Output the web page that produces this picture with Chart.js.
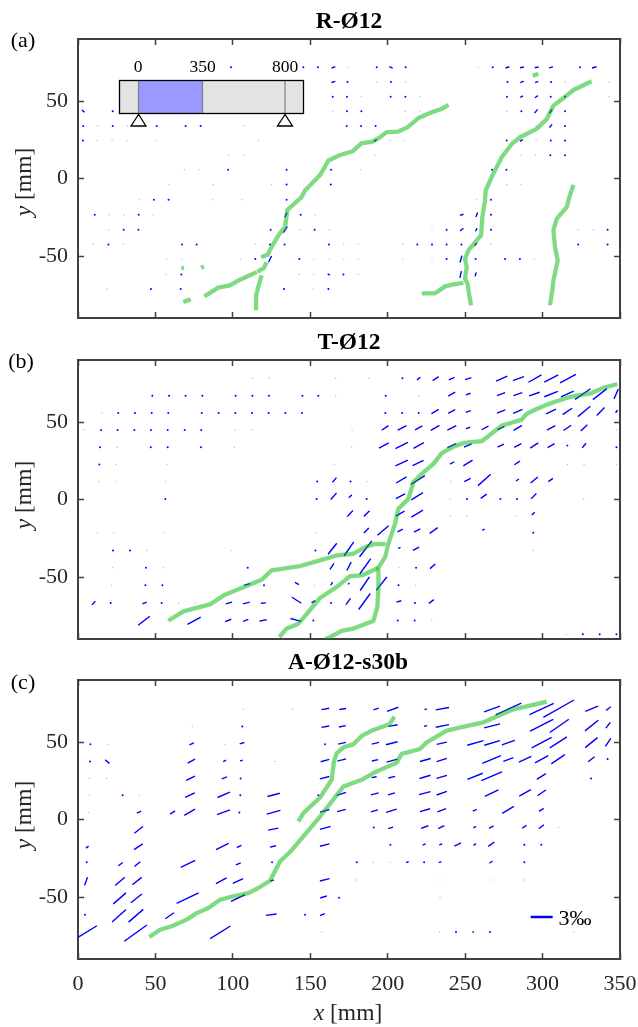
<!DOCTYPE html>
<html>
<head>
<meta charset="utf-8">
<script src="https://cdn.jsdelivr.net/npm/chart.js@4/dist/chart.umd.js"></script>
<style>
html, body { margin: 0; padding: 0; background: #fff; }
#page { position: relative; width: 638px; height: 1027px; overflow: hidden; font-family: "Liberation Serif", serif; }
canvas { position: absolute; left: 0; }
.txt { position: absolute; white-space: nowrap; color: #262626; font-size: 23.5px; line-height: 26px; transform: translate(-50%, -50%); }
.title { font-weight: bold; color: #000; font-size: 23.5px; }
.letter { color: #000; font-size: 22px; }
.rot { transform: translate(-50%, -50%) rotate(-90deg); }
</style>
</head>
<body>
<div id="page">
    <canvas id="chart-a" width="638" height="345" style="top:0"></canvas>
    <canvas id="chart-b" width="638" height="345" style="top:321px"></canvas>
    <canvas id="chart-c" width="638" height="386" style="top:641px"></canvas>

    <div class="txt title" style="left:349px;top:20px">R-Ø12</div>
    <div class="txt title" style="left:349px;top:341px">T-Ø12</div>
    <div class="txt title" style="left:348px;top:661px">A-Ø12-s30b</div>
    <div class="txt letter" style="left:23px;top:40px">(a)</div>
    <div class="txt letter" style="left:21px;top:361px">(b)</div>
    <div class="txt letter" style="left:23px;top:682px">(c)</div>
    <div class="txt rot" style="left:23px;top:182px"><i>y</i> [mm]</div>
    <div class="txt rot" style="left:23px;top:495px"><i>y</i> [mm]</div>
    <div class="txt rot" style="left:23px;top:815px"><i>y</i> [mm]</div>
    <div class="txt" style="left:348px;top:1012px"><i>x</i> [mm]</div>
    <div class="txt" style="left:575px;top:918px;font-size:22px;color:#000">3‰</div>
</div>

<script>
var xTicks = [0, 50, 100, 150, 200, 250, 300, 350];
var yTicks = [-50, 0, 50];
var insetLabels = ['0', '350', '800'];
var scaleBar = [[292.3, -62.9], [306.5, -62.9]];

// dots: [y, [x, x, ...]] per grid row, in mm
var aDots = [
    [71.7, [98.8, 145.5, 155, 192.9, 211.6, 267.8, 324.2]],
    [62.3, [174, 202.1, 277.3, 305.5]],
    [52.8, [164.5, 173.7, 201.9, 211.4, 277, 305.3, 314.5]],
    [43.4, [22.4, 173.7, 183, 286.3, 314.5]],
    [33.9, [3.4, 22.4, 50.8, 69.5, 79.2, 173.5, 182.8, 192.2, 314.5]],
    [24.5, [3.2, 276.8, 305.3, 314.5]],
    [15, [305, 314.5]],
    [5.6, [97, 134.7, 163.4, 267.4, 276.6]],
    [-3.9, [134.7, 163.2]],
    [-13.7, [49, 58.5, 134.7, 266.7]],
    [-23.4, [10.8, 39.2, 143.8, 266.7]],
    [-33, [29.5, 39, 124.4, 152.8, 238, 266.7, 342]],
    [-42.5, [19.6, 67.2, 76.6, 124, 133.4, 162.1, 219.1, 228.6, 238, 247.6, 323, 342]],
    [-52, [114.5, 142.9, 238, 256.8, 275.8, 285.4]],
    [-61.9, [66.7, 171.4]],
    [-71.3, [47.1, 66.3, 133, 161.7]]
];
var aFaint = [
    [71.7, [174, 258.5]],
    [62.3, [192.9, 211.6, 314.7, 342.9]],
    [52.8, [183, 220.9, 342.9]],
    [43.4, [164.5, 211.2, 220.9, 277]],
    [33.9, [12.7, 31.9, 107.4, 126.1, 295.8]],
    [24.5, [12.5, 22, 31.4, 50.4, 116.4, 201.5, 210.8, 295.8]],
    [15, [97.3, 107, 191.8, 286.1, 295.4]],
    [5.6, [68.7, 78.1, 182.6]],
    [-3.9, [59, 87.4, 125, 276.8, 286.1]],
    [-13.7, [39.6, 87, 106, 257.5]],
    [-23.4, [20.2, 29.7, 48.6, 153.3]],
    [-33, [20, 143.4, 162.3, 228.6, 323, 332.8]],
    [-42.5, [9.9, 29.3, 114.5, 171.6, 181, 209.7, 266.5]],
    [-52, [57.3, 66.9, 105, 152.4, 162.1, 171.6, 181, 209.7, 228.6, 294.7]],
    [-61.9, [56.8, 142.7, 152.2, 181]],
    [-71.3, [18.7, 152]]
];
// strain bars: [x, y, dx, dy], centre and full extent in mm
var aBars = [
    [164.9, 71.7, 2.5, 1], [202.1, 71.7, 2.2, -1], [277.3, 71.7, 2.5, 0.8], [286.7, 71.7, 2.5, 0.5],
    [296.2, 71.7, 2.5, 0.5], [305.5, 71.7, 2.5, 0.7], [333.4, 71.7, 3, 0.8],
    [164.9, 62.3, 2.5, 0.7], [286.7, 62.3, 2.2, 1], [296.2, 62.3, 2, 0.8],
    [286.5, 52.8, 1.8, 1], [296, 52.8, 2, 1.4],
    [3.4, 43.4, 1.6, -1.4], [295.8, 43.4, 2, 2.4], [305.3, 43.4, 2, 2.4],
    [305.3, 33.9, 1.8, 2], [192, 24.5, 1.8, 1.4], [286.3, 24.5, 1.8, 1.2],
    [134.3, -23.4, 1.4, 3], [247.8, -23.4, 2.4, 0.7], [257.5, -23.4, 1, 3],
    [133.9, -33, 2.6, 3.8], [247.8, -33, 2.2, 1.8], [257.2, -33, 1, 2],
    [256.8, -42.5, 1.6, 1.8], [124, -52, 2, 4], [247.3, -52, 1.2, 4.4],
    [247.1, -61.9, 1, 4.4], [256.8, -61.9, 0.8, 2.4], [161.9, -61.9, 1.4, -0.9]
];
var aCracks = [
    [[68, -79.7], [72.8, -78]],
    [[81.6, -76], [90.6, -70.4], [98.1, -69], [104.6, -65.3], [115.4, -60.4]],
    [[118.6, -62.5], [116.4, -70], [115, -75.4], [115, -84]],
    [[115.8, -60.2], [120, -57.8], [121.8, -53.9]],
    [[118.2, -50.7], [122.5, -49.2], [125, -44.2], [129.4, -36.7], [133.7, -31.4], [135.2, -20.2], [140.1, -15.9],
     [144.4, -12], [146.6, -7.7], [156.3, 2.2], [161.7, 11.6], [169.2, 15.2], [177.4, 17.6], [183.2, 22.8],
     [189.7, 23.6], [195, 26.6], [199.3, 29.9], [206.9, 30.3], [212.7, 33], [219.8, 39], [228.4, 42.7],
     [234.9, 44.9], [239.2, 47.5]],
    [[66.7, -57.8], [68.4, -57.8]],
    [[79.4, -57.6], [81.4, -56.7]],
    [[253.8, -81.8], [252.5, -74.3], [251.6, -67.9], [249.9, -64.6], [251, -57.1], [249.9, -51.8], [252.1, -46.4],
     [257.5, -39.9], [260.3, -36.7], [261.1, -24.9], [262.8, -14.2], [263.3, -7.7], [267.1, 0.9], [273.6, 13.7],
     [280.1, 22.3], [285.4, 26.6], [296.2, 32], [302.7, 38.4], [307, 47], [315.6, 53.5], [319.9, 57.1], [331.7, 62.7]],
    [[222, -74.1], [230.6, -74.1], [237, -69.6], [242.4, -68.3], [248.9, -67.4]],
    [[293.6, 66.4], [297.3, 67.4]],
    [[304.8, -81.8], [306.3, -72.2], [307, -65.7], [309.8, -52.8], [308, -44.2], [307, -33.5], [309.1, -26],
     [315.6, -18.5], [317.3, -12], [319.9, -4.1]]
];

var bDots = [
    [78.2, [209.5]],
    [67, [48, 58.8, 69.5, 80.3, 101.8, 112.6, 123.3, 144.9, 155.2, 198.7]],
    [55.8, [26, 36.8, 47.6, 58.3, 79.9, 90.8, 101.6, 112.4, 123.1, 133.9, 144.6, 198.5, 209.3, 220]],
    [44.9, [14.9, 25.6, 36.4, 47.1, 57.9, 68.9, 79.6]],
    [33.7, [14.2, 47, 57.9, 79.4, 347.7]],
    [22.6, [13.8]],
    [11.6, [154.5, 176]],
    [0.4, [56.4, 154.1, 186.4, 251.2, 272.7, 283.5]],
    [-21.5, [294]],
    [-32.9, [22.6, 33.6, 153.3]],
    [-44, [43.9, 109.6, 218.3]],
    [-55.4, [43.5, 54.5, 120.1, 207]],
    [-66.8, [21.1, 54, 163.4, 217.6]],
    [-78, [152, 206.5, 217.4]],
    [-87, [326, 336.9, 347.7]]
];
var bFaint = [
    [78.2, [112.8, 123.5, 166.4, 187.9]],
    [67, [166.4, 220]],
    [55.8, [15.3]],
    [44.9, [3.9, 101.4, 112.1, 177, 347.7]],
    [33.7, [25.2, 101, 176.8]],
    [22.6, [24.8, 57.3, 165.6, 316, 326.8, 347.7]],
    [11.6, [13.5, 24.5, 56.8, 186.7, 240.7]],
    [0.4, [240.5, 326.5]],
    [-10.5, [240.3, 251, 283]],
    [-21.5, [12.5, 23, 55.5, 153.5]],
    [-32.9, [44.3, 98.8, 294]],
    [-44, [22.2, 55.1, 207.5]],
    [-55.4, [21.7, 152.6, 217.9]],
    [-66.8, [65, 76]],
    [-78, [228.4]],
    [-87, [315.1]]
];
var bBars = [
    [220, 78, 2.2, 1.7], [231, 78, 3.9, 2.6], [241.3, 78, 3.7, 1.7], [252, 78, 4.1, 1.3], [273.6, 78, 7.3, 3.2],
    [284.4, 78, 7.1, 2.6], [295.1, 78, 8.4, 4.7], [305.6, 78, 9, 4.7], [316.4, 78, 10.3, 5.4],
    [241.3, 68, 4.5, 2.6], [252, 68, 3, 1.1], [273.2, 68, 5.2, 1.9], [284, 68, 5.8, 1.9], [294.7, 68, 6.9, 2.4],
    [305.5, 68, 8.8, 3.4], [316, 68, 8.2, 3.7], [326, 68, 10, 6.9], [337, 68, 9, 7.1], [347.5, 68, 2.8, 6.4],
    [230.6, 56.8, 4.7, 2.8], [241.3, 56.8, 4.5, 2.4], [252, 56.8, 3.2, 1.1], [273.2, 56.8, 5.4, 2.1],
    [284, 56.8, 6, 2.6], [305.5, 56.8, 6.4, 3], [316, 56.8, 6.2, 4.1], [326.8, 56.8, 8, 6.7], [337.5, 56.8, 5, 5.2],
    [347.8, 56.8, 1.3, 1.9],
    [198.3, 46.2, 4.3, 3], [209.3, 46.2, 5.6, 3], [220, 46.2, 4.7, 2.6], [230.6, 46.2, 5.6, 3.2], [241.4, 46.2, 5.8, 3],
    [252, 46.2, 2.6, 1.1], [262.8, 46.2, 4.5, 2.4], [273.2, 46.2, 4.5, 2.1], [284, 46.2, 5.4, 3.2],
    [305.5, 46.2, 5.4, 3], [316, 46.2, 5, 3.4], [326.8, 46.2, 4.3, 4.1],
    [197.5, 34.8, 6.2, 3.4], [209, 34.8, 8, 4.1], [220, 34.8, 6.7, 3.7], [241.4, 34.8, 5.8, 2.6], [251.7, 34.8, 5, 2.1],
    [273, 34.8, 4.1, 1.9], [284, 34.8, 4.5, 2.4], [294.6, 34.8, 5.2, 3.4], [305.5, 34.8, 4.5, 2.6],
    [316, 34.8, 1, 0.7], [326.8, 34.8, 2.4, 3],
    [209, 23.6, 8, 3.7], [219.6, 23.6, 7.1, 3.4], [241.6, 23.6, 2.8, 1.5], [251.8, 23.6, 6, 3.7], [283.6, 23.6, 3.7, 2.4],
    [165.6, 12.6, 2.6, 3], [208.8, 12.6, 6.7, 3.9], [219.5, 12.6, 9, 5.6], [251.5, 12.6, 4.1, 2.1], [262.4, 12.6, 8.2, 7.3],
    [283.8, 12.6, 1.9, 1.3], [294.6, 12.6, 4.7, 3.9], [305.2, 12.6, 3, 2.1],
    [165.1, 2.1, 3.7, 4.3], [175.9, 2.1, 1.9, 1.9], [208.2, 2.1, 6, 3.2], [219, 2.1, 7.5, 4.7], [262, 2.1, 3.9, 2.8],
    [294.3, 2.1, 3.4, 3.4],
    [175.7, -9.1, 3.7, 3.9], [186.4, -9.1, 3.7, 3.7], [208, -9.1, 5.6, 3.2], [219, -9.1, 7.5, 4.5], [294, -9.1, 1.9, 1.7],
    [186.2, -20, 3.2, 3.2], [197, -20, 7.3, 6.2], [208, -20, 3.4, 1.7], [219, -20, 4.1, 2.1], [229.7, -20, 5.2, 3.7],
    [261.8, -19.5, 1.5, 0.7],
    [164.3, -31.8, 5.6, 7.1], [175, -31.8, 6.2, 9], [185.8, -31.8, 8, 10.3], [207.5, -31.2, 1.5, 0.7], [218.3, -31.8, 4.1, 2.1],
    [164, -43.1, 2.6, 3.9], [175, -43.1, 2.8, 5.4], [185.5, -43.1, 7.1, 9.9], [229, -43.1, 3.4, 3],
    [163.8, -54.3, 1.3, 1.9], [174.8, -54.3, 1, 0.7], [185.2, -54.3, 6, 8.8], [196, -54.3, 6.9, 8.6],
    [174.5, -65.8, 3, 4.1], [185, -65.8, 7.5, 10.3], [207.2, -65.8, 3.2, 0.9], [228.2, -65.8, 3.2, 2.4],
    [10.1, -66.8, 2.2, 2.4], [43, -66.8, 2.8, 1.1], [97.5, -66.8, 4.1, 1.1], [108.7, -66.8, 4.3, 1.1], [119.7, -66.8, 3.2, 0.2],
    [141.2, -65, 6, -3.9], [152, -66, 2.4, 1.5],
    [42.6, -78.2, 7.5, 5.8], [75, -78.2, 8.6, 4.7], [97, -78, 3.9, 1.5], [108.3, -78, 3.4, 1.3], [119.5, -78, 4.7, 0.9],
    [140.7, -77.7, 6.9, -1.9],
    [109.3, -54.8, 3.9, 1.1], [141.4, -54.2, 2.6, -1.5]
];
var bCracks = [
    [[348.3, 74.5], [339.2, 72], [331.7, 68.7], [322, 67], [316.7, 65.9], [309.1, 63.4], [302.7, 61.2], [296.2, 58.4],
     [289.7, 55.2], [286.5, 51.5], [279, 49.2], [273.6, 47.7], [268.2, 43.4], [260.7, 37.6], [249, 36.5], [242.4, 34.1],
     [234.9, 29.9], [229.5, 23], [220.9, 15.5], [216.6, 11.2], [213.3, 0.4], [206.9, -6], [204.7, -15.7], [200.4, -28.6],
     [198.3, -37.2], [194, -44], [194, -58.6], [193.3, -69.4], [190.7, -78.4], [177.8, -83.3], [170.3, -84.8],
     [161.7, -89.3], [159.5, -90]],
    [[198.7, -28.8], [191.8, -28.6], [185.4, -30.7], [177.8, -35], [167, -36.1], [156.3, -39.3], [142.3, -43.2],
     [125, -45.7], [118.6, -51.8], [94.9, -61.4], [85.2, -67.7], [68, -72.2], [58.3, -78.2]],
    [[194, -44], [183.2, -49], [175.7, -49.4], [167, -56.5], [156.3, -63.5], [148.7, -72.6], [142.3, -80.1],
     [134.7, -83.3], [130, -88.7]]
];

var cDots = [
    [60, [106.1]],
    [48.5, [8, 159.5]],
    [39, [342]],
    [37.5, [7.8]],
    [26.5, [105, 331.3]],
    [15.7, [28.8, 104.8, 155.2]],
    [4.5, [104.2]],
    [-5.2, [191]],
    [-16.3, [201.7, 288.2, 299.2]],
    [-27.5, [5.6, 125.3, 180, 223.5, 288.2]],
    [-50.5, [168.6]],
    [-61.5, [4.5, 146.6]],
    [-72.6, [244.1, 266.1]]
];
var cFaint = [
    [71.1, [106.6, 138.6]],
    [60, [73.8]],
    [48.5, [19.2, 95]],
    [37.5, [127.2]],
    [26.5, [7.3, 18.5, 156.3]],
    [15.7, [7.3, 39.6]],
    [4.5, [6.9]],
    [-5.2, [310.3]],
    [-27.5, [190.7, 201.7]],
    [-39, [179.8, 233.8, 266.7, 288]],
    [-50.5, [4.7, 233.8]],
    [-72.6, [157.4, 233.4, 320.3]]
];
var cBars = [
    [6.1, -72.3, 12.3, 7.5], [37.2, -73.3, 14.6, 10.5], [37.4, -62.1, 9.5, 8.2], [26.5, -62.1, 9, 8], [26.9, -50.9, 8.2, 7.1],
    [37.7, -50.9, 7.1, 5.6], [27.1, -39.9, 6.2, 5.4], [38.1, -39.7, 6, 4.7], [27.5, -28.8, 3, 2.1], [38.3, -28.8, 3.7, 3],
    [39, -17.6, 5.6, 3.7], [39.2, -6.7, 5.6, 4.3], [39.4, 4.7, 2.8, 1.3], [5.2, -39.9, 1.9, 5.2], [6, -17.8, 1.7, 1.3],
    [18.9, 37.4, 2.8, -2.4], [59.2, -62.1, 5.6, 3.9], [70.8, -50.7, 14.2, 6.7], [71, -28.6, 9.3, 4.5], [61.1, 4.5, 3.2, 2.1],
    [72.1, 4.7, 6.9, 4.1], [72.3, 15.7, 6.2, 3], [72.7, 26.6, 5.6, 2.8], [73.2, 37.6, 4.7, 2.6], [73.4, 48.8, 2.8, 1.3],
    [91.9, -72.8, 13.1, 8.2], [92.5, -39.5, 6.9, 3.7], [93.2, -17.4, 8.2, 4.1], [93.9, 4.7, 8.4, 3], [94.1, 15.9, 8, 3.4],
    [94.5, 26.8, 3.4, 1.3], [94.7, 37.8, 1.9, 0.9], [103.3, -50.7, 9, 4.3], [103.3, -39.7, 6.7, 3], [103.5, -28.6, 3.2, 1.3],
    [104, -17.4, 3, 1.5], [105.9, 49.2, 3, 0.9], [105.5, 38, 1.7, 0.4], [124.8, -61.4, 6.9, 0.9], [126.3, 15.9, 8, 2.1],
    [126.3, 4.7, 8.8, 2.4], [126.1, -6.2, 6.5, 1.3], [125.9, -17.4, 3.9, 0.9], [125.3, -39.3, 2.6, 0.4],
    [159.7, 71.3, 5, 0.9], [170.9, 71.3, 4.3, 0.6], [192.5, 71.3, 3.4, 1.1], [203.2, 71.1, 7.3, 2.6], [224.5, 71.1, 1.5, 0.4],
    [235.3, 71.5, 8.6, 1.5], [267.4, 71.3, 10.3, 3.7], [278, 71.3, 16.6, 7.5], [299.4, 71.3, 15.7, 7.3], [310.4, 71.5, 19.8, 11.2],
    [331.7, 71.5, 8.2, 3.4], [342.5, 71.5, 3, 2.4],
    [159.7, 59.9, 5, 0.9], [170.7, 60.1, 4.5, 0.9], [203.4, 60.6, 6, 1.1], [224.5, 60.3, 2, 0.5], [235.3, 60.4, 8.6, 1.7],
    [267.4, 60.4, 10.3, 2.6], [299.4, 60.8, 14.9, 7.7], [310.8, 60.4, 12.3, 8.6], [331.7, 60.6, 8.6, 6.9], [342.3, 60.8, 2.8, 3.7],
    [170.5, 49.2, 5, 1.1], [192, 49.2, 4.7, 1.1], [202.6, 49.2, 7.5, 1.9], [234.9, 49.2, 6.5, 1.5], [256.6, 49.4, 10.5, 3],
    [267.4, 49.4, 10.1, 3], [277.9, 49.6, 8.4, 3], [299.4, 49.6, 12.9, 6.7], [310.2, 49.8, 11, 7.1], [331.5, 49.6, 8, 6.4],
    [342.3, 49.8, 3.4, 5.2],
    [159.5, 38, 5.6, 1.5], [170.3, 38.4, 5.6, 1.5], [191.8, 38.2, 4.1, 0.9], [202.8, 38, 7.1, 1.9], [224.3, 38.4, 6.9, 1.9],
    [234.9, 38.4, 6.7, 2.1], [267.1, 38.7, 12, 4.9], [277.9, 38.7, 6.5, 2.4], [288.7, 38.9, 8, 3.7], [299.4, 38.9, 8.6, 4.7],
    [310, 38.9, 8.8, 6], [331.5, 38.9, 4.1, 3.2],
    [159.3, 27, 6, 1.5], [191.2, 27.3, 3.2, 0.6], [202.6, 27.3, 4.3, 1.1], [224.1, 27.5, 7.1, 2.1], [234.9, 27.5, 6.7, 1.9],
    [256.4, 27.9, 9.9, 3.9], [267.1, 27.9, 13.3, 5.6], [299.2, 27.7, 5.8, 3.7],
    [170.1, 16.5, 6, 1.9], [191.6, 16.5, 5, 1.3], [202.4, 16.5, 4.5, 1.3], [223.9, 17, 7.5, 1.9], [234.9, 17, 6.7, 2.4],
    [267.1, 17, 8.8, 4.1], [288.7, 17.2, 7.5, 4.1], [299.4, 17.2, 5.4, 3.7],
    [159.3, 5.6, 6, 1.7], [170.1, 5.8, 5.6, 1.5], [191.4, 5.6, 4.5, 1.3], [202.4, 5.6, 6.9, 2.1], [224.1, 6, 6.5, 1.9],
    [234.9, 6, 5.6, 2.1], [256.2, 6, 2.6, 1.1], [277.7, 6.2, 7.5, 4.5], [299.2, 6.2, 3, 1.9],
    [159.7, -5.4, 6.9, 1.9], [201.9, -5.4, 3.2, 0.9], [223.9, -4.9, 4.7, 1.7], [234.6, -4.9, 3.9, 1.9], [256.2, -4.9, 1.7, 0.9],
    [266.9, -4.9, 3, 1.5], [288.2, -4.7, 2.8, 1.9], [299.2, -4.7, 3.4, 2.6],
    [159.3, -16.5, 6.2, 1.5], [223.5, -16.1, 1.9, 0.9], [234.2, -16.1, 1.9, 0.6], [245.2, -16.1, 4.3, 2.1], [256.2, -16.1, 1.7, 1.1],
    [266.9, -15.9, 3.9, 2.8],
    [212.7, -27.5, 1.7, 0.7], [233.8, -27.5, 1.7, 0.7], [266.7, -27.5, 2, 1.4],
    [159.3, -38.9, 6.2, 1.5], [158.5, -50, 4.3, 1.3], [157.8, -61.4, 3, 1.3], [255.1, -72.6, 1, 0.6]
];
var cCracks = [
    [[46, -75.8], [53, -71.1], [60.5, -68.9], [70.2, -64.6], [76.6, -60.4], [84.2, -57.1], [91.7, -51.8], [100.3, -49.6],
     [110, -47.5], [116.4, -44.2], [124, -39.5], [130.4, -27.1], [136.9, -21], [156.3, 1.9], [171.4, 21.3], [183.2, 25.6],
     [191.8, 30.5], [205.8, 36.7], [209, 42.3], [220.9, 45.5], [225.2, 49.8], [238.1, 57.3], [252.1, 60.6], [261.8, 62.7],
     [270.4, 66.4], [281.1, 71.1], [294, 73.9], [302.7, 76]],
    [[142.3, -1.3], [145.5, 4.1], [156.3, 14.2], [163.8, 25.6], [165.3, 37.4], [167, 42.7], [171.4, 46.6], [177.8, 48.5],
     [183.2, 53.9], [190.7, 57.8], [201.1, 61.4], [204.3, 66.4]]
];

var BLUE = '#0000ff';
var GREEN = 'rgba(0,183,5,0.5)';
var AXIS = '#404040';
var FONT = { family: '"Liberation Serif", serif', size: 22 };

function rowsToPoints(rows) {
    var pts = [];
    rows.forEach(function (r) {
        r[1].forEach(function (x) { pts.push({ x: x, y: r[0] }); });
    });
    return pts;
}

function barsToPoints(bars) {
    var pts = [];
    bars.forEach(function (b) {
        pts.push({ x: b[0] - b[2] / 2, y: b[1] - b[3] / 2 });
        pts.push({ x: b[0] + b[2] / 2, y: b[1] + b[3] / 2 });
        pts.push({ x: null, y: null });
    });
    return pts;
}

function pairsToPoints(list) {
    return list.map(function (p) { return { x: p[0], y: p[1] }; });
}

function makeAxis(position, values, min, max, showLabels, padding) {
    var horizontal = position === 'top' || position === 'bottom';
    return {
        type: 'linear',
        position: position,
        min: min,
        max: max,
        afterBuildTicks: function (scale) {
            scale.ticks = values.map(function (v) { return { value: v }; });
        },
        afterFit: function (scale) {
            // fixed plot box, the labels must not push it around
            scale.paddingLeft = scale.paddingRight = scale.paddingTop = scale.paddingBottom = 0;
            if (horizontal) scale.height = showLabels ? 40 : 0;
            else scale.width = position === 'left' ? 78 : 0;
        },
        grid: { drawOnChartArea: false, tickLength: -6, tickColor: AXIS, tickWidth: 1.5 },
        border: { color: AXIS, width: 2 },
        ticks: {
            display: showLabels,
            autoSkip: false,
            maxRotation: 0,
            padding: padding,
            color: '#262626',
            font: FONT,
            callback: function (v) { return String(v); }
        }
    };
}

// small beam sketch of panel (a), screen furniture and not data
var beamInset = {
    id: 'beamInset',
    afterDatasetsDraw: function (chart) {
        var ctx = chart.ctx;
        ctx.save();
        ctx.fillStyle = '#e3e3e3';
        ctx.fillRect(119.5, 80.5, 184, 33);
        ctx.fillStyle = '#9999ff';
        ctx.fillRect(138.5, 80.5, 64, 33);
        ctx.strokeStyle = '#808080';
        ctx.lineWidth = 1.2;
        [138.5, 202.5, 285].forEach(function (x) {
            ctx.beginPath();
            ctx.moveTo(x, 80.5);
            ctx.lineTo(x, 113.5);
            ctx.stroke();
        });
        ctx.strokeStyle = '#000';
        ctx.lineWidth = 1.3;
        ctx.strokeRect(119.5, 80.5, 184, 33);
        [138.5, 285].forEach(function (x) {
            ctx.beginPath();
            ctx.moveTo(x, 114.5);
            ctx.lineTo(x - 7.5, 126);
            ctx.lineTo(x + 7.5, 126);
            ctx.closePath();
            ctx.stroke();
        });
        ctx.fillStyle = '#000';
        ctx.font = '17.5px "Liberation Serif", serif';
        ctx.textAlign = 'center';
        ctx.textBaseline = 'middle';
        [138, 202.5, 285].forEach(function (x, i) {
            ctx.fillText(insetLabels[i], x, 67);
        });
        ctx.restore();
    }
};

function makeChart(id, dots, faint, bars, cracks, opts) {
    var datasets = [
        { data: rowsToPoints(faint), pointRadius: 0.7, pointBorderWidth: 0, pointBackgroundColor: 'rgba(0,0,255,0.3)', order: 4 },
        { data: rowsToPoints(dots), pointRadius: 1, pointBorderWidth: 0, pointBackgroundColor: BLUE, order: 3 },
        { data: barsToPoints(bars), showLine: true, spanGaps: false, borderColor: BLUE, borderWidth: 1.4, pointRadius: 0, order: 2 }
    ];
    cracks.forEach(function (c) {
        datasets.push({
            data: pairsToPoints(c), showLine: true, borderColor: GREEN, borderWidth: 4.3,
            borderCapStyle: 'butt', borderJoinStyle: 'round', pointRadius: 0, order: 1
        });
    });
    if (opts.scaleBar) {
        datasets.push({ data: pairsToPoints(opts.scaleBar), showLine: true, borderColor: BLUE, borderWidth: 2.5, pointRadius: 0, order: 0 });
    }
    return new Chart(document.getElementById(id), {
        type: 'scatter',
        data: { datasets: datasets },
        options: {
            responsive: false,
            animation: false,
            events: [],
            layout: { padding: { left: 0, right: 18, top: 39, bottom: opts.bottom } },
            plugins: { legend: { display: false }, tooltip: { enabled: false } },
            scales: {
                x: makeAxis('bottom', xTicks, 0, 350, opts.xLabels, 18),
                x2: makeAxis('top', xTicks, 0, 350, false, 0),
                y: makeAxis('left', yTicks, -90, 90, true, 16),
                y2: makeAxis('right', yTicks, -90, 90, false, 0)
            }
        },
        plugins: opts.plugins || []
    });
}

makeChart('chart-a', aDots, aFaint, aBars, aCracks, { bottom: 27, xLabels: false, plugins: [beamInset] });
makeChart('chart-b', bDots, bFaint, bBars, bCracks, { bottom: 27, xLabels: false });
makeChart('chart-c', cDots, cFaint, cBars, cCracks, { bottom: 28, xLabels: true, scaleBar: scaleBar });
</script>
</body>
</html>
